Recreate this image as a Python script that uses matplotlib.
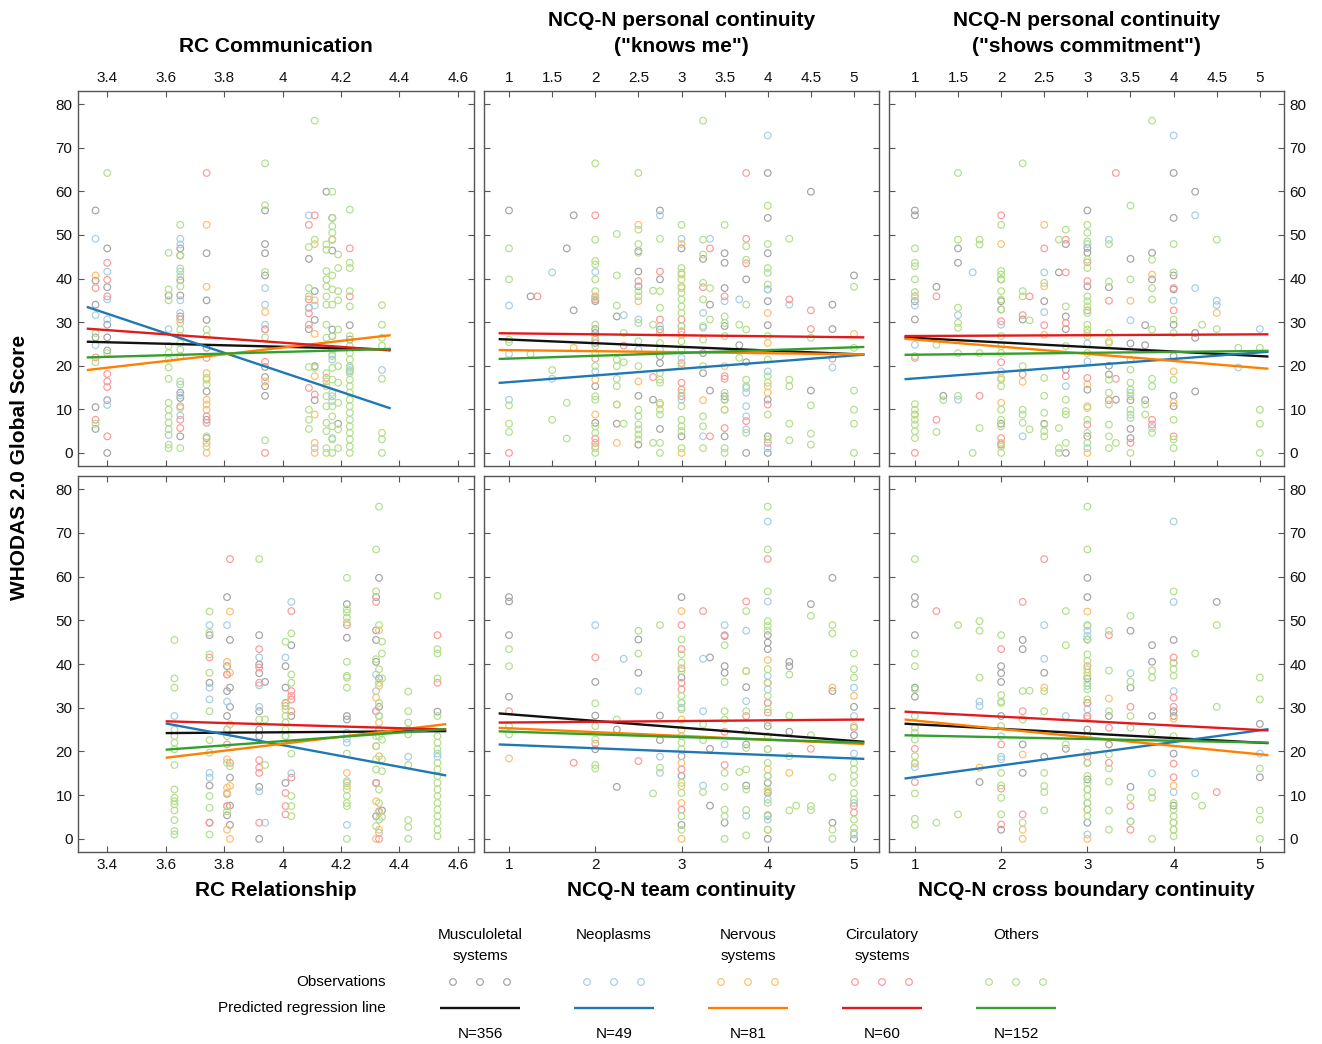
import matplotlib.pyplot as plt
from matplotlib.ticker import FormatStrFormatter

plt.rcParams['font.family'] = ['Liberation Sans', 'DejaVu Sans']

# groups
group_names = ['Musculoletal\nsystems', 'Neoplasms', 'Nervous\nsystems', 'Circulatory\nsystems', 'Others']
group_n = [356, 49, 81, 60, 152]
dot_colors = ['#a3a3a3', '#a6cee3', '#fdbf6f', '#fb9a99', '#b2df8a']
line_colors = ['#111111', '#1f78b4', '#ff7f00', '#e31a1c', '#33a02c']

# observations: {x value: [WHODAS scores]}
# --- RC Communication ---
comm_musc = {3.36: [55.6, 39.5, 34.0, 26.5, 10.5, 5.5],
             3.40: [46.9, 38.0, 29.4, 26.5, 23.5, 12.1, 0.0],
             3.61: [36.1],
             3.65: [46.9, 45.3, 39.6, 36.1, 31.3, 13.8, 12.6, 3.8],
             3.74: [45.8, 35.0, 30.5, 24.1, 14.1, 7.6, 3.4],
             3.94: [55.6, 47.9, 45.8, 40.7, 19.7, 17.4, 15.3, 13.1],
             4.09: [44.5, 33.3, 28.4],
             4.11: [37.1, 30.5, 19.9, 12.1],
             4.15: [59.9],
             4.17: [53.9, 46.4, 28.3, 26.8],
             4.19: [6.7],
             4.23: [29.3, 26.0]}
comm_neo = {3.36: [49.1, 31.6, 24.7],
            3.40: [41.6, 35.2, 30.6, 11.0],
            3.61: [28.4, 4.1],
            3.65: [49.1, 47.8, 41.6, 35.0, 32.1, 15.7, 13.2, 8.6],
            3.94: [37.8, 34.0, 29.4, 28.4],
            4.09: [54.5, 33.3],
            4.11: [33.8, 1.1],
            4.17: [22.6, 21.4, 13.0, 11.9, 3.4],
            4.23: [19.5, 18.7, 19.0],
            4.34: [19.0]}
comm_nerv = {3.36: [40.7],
             3.74: [52.3, 38.1, 18.3, 16.8, 12.2, 11.1, 9.9, 2.3, 0.0],
             3.94: [32.3, 16.4],
             4.11: [47.9, 35.0, 27.3, 17.6, 8.8, 2.3, 0.0],
             4.15: [15.3]}
comm_circ = {3.36: [37.8, 21.9, 7.6],
             3.40: [43.6, 39.7, 35.9, 18.1, 16.4, 15.1, 3.8],
             3.65: [30.6, 10.7, 7.6, 5.7],
             3.74: [64.2, 21.8, 8.4, 6.9],
             3.94: [28.3, 20.9, 0.0],
             4.09: [52.3, 35.2, 32.0, 29.4, 14.9],
             4.11: [54.5, 13.4],
             4.15: [17.2],
             4.17: [48.9],
             4.23: [46.9, 35.9]}
comm_other = {3.36: [27.5, 20.8, 6.7],
              3.40: [64.2, 22.9],
              3.61: [45.9, 37.5, 35.0, 24.5, 22.9, 21.4, 19.6, 17.0, 11.5, 9.9, 8.4, 6.9, 5.4, 1.9, 1.1],
              3.65: [52.3, 45.3, 42.3, 40.5, 38.2, 29.8, 28.3, 26.8, 25.2, 23.7, 22.2, 16.4, 10.3, 1.1],
              3.74: [28.3, 26.8, 17.2, 15.7, 3.8, 1.5],
              3.94: [66.4, 56.8, 41.5, 26.5, 2.9],
              4.09: [47.2, 37.8, 35.9, 19.7, 9.9, 7.6, 5.5],
              4.11: [76.2, 48.9, 19.5],
              4.15: [47.8, 46.6, 41.7, 39.8, 38.2, 35.9, 34.0, 29.4, 26.4, 18.3, 16.4, 13.0, 10.7, 6.9, 5.0, 1.1, 0.0],
              4.17: [59.9, 53.9, 52.0, 50.5, 48.9, 40.7, 37.5, 34.0, 26.8, 23.7, 22.2, 19.5, 16.8, 13.8, 10.7, 8.4, 6.1, 3.1, 0.0],
              4.19: [45.5, 42.4, 37.1, 35.0, 28.3, 19.9, 16.1, 11.5, 5.4, 1.1],
              4.23: [55.8, 43.6, 42.4, 37.1, 33.6, 26.8, 24.5, 22.9, 21.4, 19.9, 18.3, 16.8, 15.3, 13.8, 12.2,
                     10.7, 9.2, 7.6, 6.1, 4.6, 3.1, 1.5, 0.0],
              4.34: [33.9, 29.4, 26.4, 24.6, 17.0, 4.6, 3.1, 0.0]}
comm_fit_x = (3.33, 4.37)
comm_fit = [(25.5, 23.7), (33.5, 10.2), (19.0, 27.0), (28.5, 23.5), (21.9, 23.85)]

# --- NCQ-N personal continuity ("knows me") ---
knows_musc = {1.0: [55.6], 1.25: [35.9], 1.67: [46.9], 1.75: [54.5, 32.7],
              2.0: [34.8, 28.4, 27.5, 25.2, 15.3, 6.9], 2.25: [31.3, 6.7],
              2.5: [46.3, 41.6, 38.2, 13.1, 1.9], 2.67: [12.2],
              2.75: [55.6, 39.8, 28.3, 22.2, 20.6, 5.5], 3.0: [46.9, 3.8],
              3.25: [44.5, 22.9, 18.3], 3.33: [34.0, 14.3],
              3.5: [45.8, 43.6, 37.8, 29.1, 13.0, 12.2, 3.8], 3.67: [24.7],
              3.75: [39.8, 20.8, 0.0], 4.0: [64.2, 53.9, 45.8, 37.5, 34.8, 29.3, 12.2, 3.8, 0.0],
              4.5: [59.9, 14.3], 4.75: [34.0, 28.4], 5.0: [40.7]}
knows_neo = {1.0: [33.8, 22.7, 12.2], 1.5: [41.4, 17.0], 2.0: [41.5, 18.7], 2.33: [31.6],
             2.5: [30.6, 23.7], 2.75: [54.5, 29.1], 3.0: [49.1, 21.8, 12.2], 3.25: [32.1, 28.7, 3.8],
             3.33: [49.1], 3.5: [34.8], 3.67: [35.2], 3.75: [14.9, 13.8, 10.7, 8.4, 5.4],
             4.0: [72.8, 37.5, 18.7, 1.1], 4.25: [34.0], 4.75: [19.6]}
knows_nerv = {1.75: [24.1], 2.0: [16.8, 8.8, 1.5], 2.25: [11.1, 2.3], 2.5: [52.3, 34.8, 16.4],
              2.75: [27.5, 11.1], 3.0: [47.9, 40.9, 37.8, 27.1, 0.0], 3.25: [12.1], 3.5: [19.9, 9.9],
              4.0: [32.1, 25.2, 15.3, 13.8], 5.0: [27.3]}
knows_circ = {1.0: [0.0], 1.33: [35.9], 2.0: [54.5, 35.9, 35.2, 26.0, 21.6, 3.3, 2.3], 2.33: [24.6],
              2.5: [39.4], 2.67: [17.4], 2.75: [41.6, 30.6], 3.0: [30.6, 29.1, 27.9, 20.6, 16.1, 14.5, 13.0],
              3.25: [38.0], 3.33: [46.9, 3.8], 3.5: [35.9, 17.6, 17.0, 5.7], 3.75: [64.2, 49.1, 43.5, 7.3],
              4.0: [11.1, 2.3], 4.25: [35.2], 4.5: [32.7, 28.4], 4.75: [21.6]}
knows_other = {1.0: [46.9, 39.8, 26.0, 25.4, 10.9, 6.7, 4.8], 1.25: [22.7], 1.5: [19.0, 7.6], 1.67: [11.5, 3.3],
               2.0: [66.4, 48.9, 44.0, 43.2, 39.8, 37.1, 35.6, 29.4, 26.8, 24.5, 22.9, 19.9, 13.0, 12.2, 6.1,
                     4.6, 1.1, 0.0],
               2.25: [50.2, 40.7, 33.8, 21.4, 19.9, 17.0, 15.3, 11.1], 2.33: [27.5, 20.8, 6.7],
               2.5: [64.2, 51.2, 47.9, 45.9, 37.1, 35.9, 29.8, 25.6, 19.9, 9.9, 8.4, 6.5, 5.4, 4.2, 3.1],
               2.67: [37.2, 29.4, 2.3],
               2.75: [49.1, 37.1, 33.3, 25.2, 23.7, 18.3, 16.8, 16.1, 11.5, 9.9, 8.8, 2.3, 0.0],
               3.0: [52.3, 42.4, 41.3, 39.8, 38.2, 36.7, 35.2, 33.6, 32.1, 29.1, 25.6, 23.7, 19.9, 13.8, 10.7,
                     7.6, 6.1, 5.0, 1.1],
               3.25: [76.2, 48.9, 45.5, 39.0, 35.2, 29.1, 26.0, 19.9, 8.4, 6.1, 1.1], 3.33: [37.8, 30.6],
               3.5: [52.3, 31.3, 29.8, 26.8, 13.8, 12.2, 9.9, 1.1, 0.0], 3.67: [29.4, 21.8],
               3.75: [47.4, 44.3, 34.0, 28.3, 16.8, 15.3, 4.6],
               4.0: [56.7, 47.9, 42.4, 41.3, 38.6, 26.8, 21.4, 17.6, 16.1, 8.8, 3.1],
               4.25: [49.1, 16.8, 15.3, 6.7, 2.9], 4.5: [26.4, 10.9, 4.4, 1.9],
               5.0: [38.1, 24.1, 14.3, 9.9, 6.7, 0.0]}
knows_fit_x = (0.88, 5.12)
knows_fit = [(26.1, 22.55), (16.05, 22.55), (23.6, 22.6), (27.45, 26.5), (21.55, 24.3)]

# --- NCQ-N personal continuity ("shows commitment") ---
commit_musc = {1.0: [55.6, 54.5, 34.8, 30.6], 1.25: [38.1], 1.33: [13.1], 1.5: [46.9, 43.6],
               2.0: [39.8, 34.8, 32.9, 6.7, 1.9], 2.25: [30.6], 2.5: [34.8, 6.7], 2.67: [41.4],
               2.75: [47.9, 31.3, 28.4, 19.1, 0.0], 3.0: [55.6, 47.0, 45.9, 38.2, 14.5, 3.8],
               3.25: [38.0, 20.0, 18.0], 3.33: [12.2], 3.5: [44.5, 25.1, 12.1, 5.5, 3.4],
               3.67: [29.3, 24.7, 12.1], 3.75: [45.9, 39.8],
               4.0: [64.2, 53.9, 40.7, 37.5, 29.4, 22.2, 13.1, 10.7], 4.25: [59.9, 27.5, 26.4, 14.1]}
commit_neo = {1.0: [33.8, 24.8], 1.5: [31.6, 12.2], 1.67: [41.4], 2.0: [29.4, 18.7], 2.25: [3.8],
              2.5: [41.4, 32.3], 2.75: [15.3], 3.0: [47.9, 25.1, 21.0, 1.1], 3.25: [48.9],
              3.5: [30.4, 13.8, 8.8], 3.75: [5.7], 4.0: [72.8, 34.9], 4.25: [54.5, 37.8],
              4.5: [34.9, 33.9], 4.75: [19.6], 5.0: [28.4]}
commit_nerv = {1.0: [8.8], 2.0: [47.9, 17.2, 11.5, 2.3], 2.25: [16.3], 2.5: [52.3, 38.2, 27.1],
               3.0: [27.5, 15.7, 10.3, 0.0], 3.25: [25.6, 12.1], 3.5: [34.9], 3.75: [40.9],
               4.0: [18.7, 11.5], 4.5: [32.1]}
commit_circ = {1.0: [35.9, 21.8, 0.0], 1.25: [35.9, 7.6], 1.75: [13.1], 2.0: [54.5, 30.2, 20.8, 3.4],
               2.25: [31.6, 18.0], 2.33: [35.9], 2.5: [46.9, 29.3], 2.75: [48.9, 41.4, 29.8, 17.6],
               3.0: [43.7, 39.4, 32.7, 17.2, 6.5], 3.25: [34.9, 12.1], 3.33: [64.2, 17.0], 3.5: [2.3],
               3.75: [7.6, 6.5], 4.0: [37.8, 32.7, 3.8]}
commit_other = {1.0: [46.9, 43.6, 42.8, 39.8, 36.9, 35.9, 22.2, 11.2, 9.9, 8.8, 7.6, 6.5, 5.0, 3.4],
                1.25: [24.8, 4.8], 1.33: [12.1], 1.5: [64.2, 48.9, 33.3, 29.8, 28.7, 22.9, 13.1],
                1.67: [0.0], 1.75: [48.9, 47.8, 22.9, 5.7],
                2.0: [52.3, 41.7, 40.9, 39.8, 37.1, 35.2, 32.9, 26.8, 24.5, 22.9, 16.8, 15.3, 9.9, 7.6, 6.1,
                      1.5, 0.0],
                2.25: [66.4, 37.1, 35.9, 19.9, 9.9, 8.8, 6.9], 2.33: [30.4, 5.4],
                2.5: [39.0, 17.2, 13.1, 9.2, 6.5, 5.0, 3.8], 2.67: [48.9, 5.7, 1.1, 0.0],
                2.75: [51.2, 33.6, 24.5, 12.2, 9.6, 8.8, 2.3],
                3.0: [52.3, 50.5, 48.5, 44.3, 42.4, 35.9, 34.8, 33.6, 32.1, 29.4, 28.3, 26.8, 22.9, 10.7,
                      7.6, 4.6, 2.3],
                3.25: [47.9, 39.3, 27.5, 25.2, 16.8, 13.8, 11.1, 6.5, 3.8, 1.1], 3.33: [2.3],
                3.5: [56.7, 39.8, 21.4, 19.1, 16.1, 14.5, 13.0, 9.9, 8.0, 0.0], 3.67: [11.1, 8.8],
                3.75: [76.2, 44.3, 37.8, 35.2, 28.3, 17.0, 15.3, 4.6],
                4.0: [47.9, 41.4, 30.6, 27.5, 16.8, 7.6, 3.1, 1.1], 4.33: [29.4], 4.5: [48.9, 28.4],
                4.75: [24.1], 5.0: [24.1, 9.9, 6.7, 0.0]}
commit_fit_x = (0.88, 5.10)
commit_fit = [(26.5, 22.1), (16.9, 23.2), (26.2, 19.3), (26.8, 27.2), (22.5, 23.4)]

# --- RC Relationship ---
rel_musc = {3.75: [46.6, 35.7, 12.2, 3.7], 3.81: [55.3, 39.5, 33.8, 28.1, 10.3, 5.4],
            3.82: [45.5, 34.6, 30.2, 14.0, 7.6, 3.2], 3.92: [46.6, 39.9, 37.9, 29.2, 25.0, 23.5, 11.9, 0.0],
            3.94: [35.9], 4.01: [39.5, 34.6, 31.1, 12.8], 4.03: [44.3, 28.1],
            4.22: [53.7, 46.0, 28.1, 27.3], 4.32: [55.3, 47.7, 45.5, 40.5, 12.8, 5.2],
            4.33: [59.7, 36.7, 30.2], 4.34: [6.5], 4.53: [29.1]}
rel_neo = {3.63: [28.1], 3.75: [48.9, 34.6, 31.9, 15.1, 14.0], 3.81: [48.9, 31.4, 25.0],
           3.92: [41.5, 35.1, 30.2, 10.9], 3.94: [3.7], 4.01: [41.5, 23.5], 4.03: [54.2, 15.0],
           4.22: [24.3, 22.9, 22.0, 13.2, 3.2], 4.32: [37.6, 33.8, 29.2], 4.33: [28.1, 1.4],
           4.43: [18.8], 4.53: [19.5, 18.8]}
rel_nerv = {3.81: [40.5, 37.6, 18.2, 11.7, 10.5, 7.5, 2.1], 3.82: [52.0, 38.0, 26.2, 12.1, 0.0],
            4.03: [31.9], 4.22: [15.1, 12.1], 4.32: [32.3, 8.6, 0.0], 4.33: [47.7, 35.0, 26.6, 18.9, 2.1]}
rel_circ = {3.75: [41.5, 3.7], 3.81: [37.6, 21.6, 7.5], 3.82: [64.0, 17.4],
            3.92: [43.4, 39.2, 35.7, 18.0, 16.3, 15.1, 3.7], 4.01: [30.4, 10.5, 7.5, 5.6],
            4.03: [52.1, 33.8, 32.7, 31.9, 29.2, 14.0], 4.22: [48.9], 4.32: [54.2, 29.2, 21.2, 12.8],
            4.33: [6.3, 0.0], 4.53: [46.6, 35.7]}
rel_other = {3.63: [45.5, 36.7, 34.6, 25.0, 23.5, 22.0, 20.5, 16.9, 11.3, 9.4, 8.6, 7.9, 6.5, 4.3, 1.8, 1.0],
             3.75: [52.0, 47.2, 42.2, 38.0, 29.2, 22.6, 19.7, 9.8, 7.1, 1.0],
             3.81: [25.0, 23.5, 17.4, 6.3], 3.82: [16.6], 3.92: [64.0, 27.3], 3.94: [27.3, 16.9],
             4.01: [45.1, 31.0, 29.6, 28.1, 26.6, 25.0, 23.5],
             4.03: [47.0, 37.6, 35.7, 19.5, 9.8, 7.5, 5.2],
             4.22: [59.7, 52.5, 51.8, 50.6, 49.5, 40.5, 37.3, 36.9, 34.6, 19.5, 12.8, 11.3, 9.8, 8.2, 7.5, 0.0],
             4.32: [66.2, 56.6, 41.1, 23.5, 21.2, 18.2, 15.9, 2.9],
             4.33: [76.0, 48.9, 38.8, 35.7, 31.1, 28.1, 25.0, 23.5, 11.3, 8.2, 6.0, 4.4],
             4.34: [45.1, 42.4, 36.7, 22.7, 18.2, 15.5, 5.0],
             4.43: [33.7, 29.2, 26.6, 25.0, 23.9, 16.9, 4.3, 2.7, 0.0],
             4.53: [55.6, 43.4, 42.4, 36.7, 28.1, 23.5, 22.0, 20.5, 17.4, 15.9, 14.4, 12.8, 11.3, 9.8, 8.2,
                    6.7, 5.2, 3.7, 2.1, 0.6]}
rel_fit_x = (3.60, 4.56)
rel_fit = [(24.2, 24.65), (26.4, 14.5), (18.55, 26.25), (26.9, 25.0), (20.4, 25.1)]

# --- NCQ-N team continuity ---
team_musc = {1.0: [55.3, 54.3, 46.6, 32.5], 2.0: [35.9, 28.2, 20.5], 2.25: [25.0, 11.9], 2.5: [45.6, 38.0],
             2.75: [28.2, 22.6], 3.0: [55.3, 36.9, 18.9, 14.4, 3.2], 3.33: [41.5, 20.6, 7.6],
             3.5: [46.4, 39.5, 38.0, 3.7], 3.75: [34.7, 21.6, 12.2],
             4.0: [46.6, 44.9, 43.4, 25.8, 12.8, 10.5, 5.4, 0.0], 4.25: [40.5, 39.5, 24.5], 4.5: [53.7],
             4.75: [59.7, 33.8, 3.7], 5.0: [30.2, 23.7, 0.0]}
team_neo = {2.0: [48.9], 2.33: [41.2], 2.5: [33.8], 2.75: [18.8, 15.1], 3.0: [31.1, 30.0],
            3.25: [41.2, 29.2, 12.2], 3.5: [48.9, 21.6], 3.75: [47.6, 31.5, 5.3],
            4.0: [72.6, 54.3, 37.3, 34.2, 31.1, 14.4, 9.0, 4.4], 5.0: [34.6, 28.1, 19.5, 8.2, 1.0]}
team_nerv = {1.0: [18.4], 3.0: [52.1, 27.3, 25.0, 17.4, 12.1, 8.2, 0.0], 3.75: [38.4],
             4.0: [40.9, 15.9, 10.9, 2.1], 4.25: [15.1], 4.75: [34.6], 5.0: [32.7]}
team_circ = {1.0: [29.2], 1.75: [17.4], 2.0: [41.5, 21.8], 2.5: [17.8],
             3.0: [48.9, 43.4, 39.0, 35.7, 34.2, 15.9, 6.7], 3.25: [52.1], 3.5: [46.6, 24.5, 16.9],
             3.75: [54.3, 28.1], 4.0: [64.0, 35.7, 31.1, 28.9, 20.5], 4.5: [20.6], 5.0: [25.4, 7.5, 6.0]}
team_other = {1.0: [43.4, 39.5, 25.8, 23.9], 2.0: [31.0, 25.8, 22.7, 16.9, 16.1], 2.25: [27.3],
              2.5: [47.6, 42.4], 2.67: [10.4], 2.75: [48.9, 16.3],
              3.0: [45.6, 42.2, 40.3, 38.4, 32.7, 31.1, 29.6, 23.5, 22.0, 20.5, 12.8, 10.5, 5.2, 2.1],
              3.25: [26.2, 22.6, 10.7], 3.5: [44.3, 35.9, 29.2, 27.3, 15.1, 11.9, 6.7, 5.2, 0.0],
              3.67: [15.3], 3.75: [52.1, 38.4, 29.2, 24.7, 20.8, 15.9, 11.3, 6.6, 0.8],
              4.0: [76.0, 66.2, 56.6, 49.8, 48.7, 47.6, 38.8, 35.7, 32.7, 29.6, 26.6, 23.5, 20.5, 17.4, 14.4,
                    11.3, 8.2, 5.2, 2.1],
              4.25: [37.6, 28.2, 18.9, 6.5], 4.33: [7.6], 4.5: [51.0, 23.7, 7.5, 6.6],
              4.75: [48.9, 47.0, 14.1, 2.1, 0.0],
              5.0: [42.4, 38.8, 36.9, 25.8, 17.4, 15.9, 14.4, 12.8, 10.5, 9.0, 4.4, 2.5, 1.4]}
team_fit_x = (0.88, 5.12)
team_fit = [(28.7, 22.2), (21.6, 18.3), (25.4, 21.7), (26.6, 27.3), (24.6, 22.0)]

# --- NCQ-N cross boundary continuity ---
cross_musc = {1.0: [55.3, 53.7, 46.6, 34.6, 32.5], 1.75: [13.0], 2.0: [39.5, 37.9, 35.9, 28.1, 2.1],
              2.25: [45.5, 43.4, 21.6, 15.1], 2.5: [38.0, 18.8], 2.75: [20.6],
              3.0: [59.7, 55.3, 45.6, 36.7, 31.1, 25.0, 13.6, 3.7], 3.25: [28.1, 21.6],
              3.5: [47.6, 34.6, 11.9], 3.75: [44.3, 40.5, 28.1], 4.0: [45.5, 29.2, 28.1, 19.5, 7.6],
              4.5: [54.2], 5.0: [26.3, 14.1]}
cross_neo = {1.0: [16.4], 1.75: [31.4, 30.4], 2.0: [23.5, 18.8, 18.2], 2.5: [48.9, 41.2], 2.75: [28.1],
             3.0: [48.9, 47.6, 46.4, 35.0, 29.6, 28.1, 11.3, 8.2, 1.0], 3.5: [37.9, 4.0], 3.75: [15.0],
             4.0: [72.6, 54.2, 33.8, 10.7], 4.25: [15.0], 5.0: [19.5]}
cross_nerv = {1.0: [17.2], 1.75: [16.3], 2.25: [19.3, 2.1, 0.0], 2.5: [34.6], 3.0: [52.0, 38.0, 27.5, 0.0],
              3.25: [32.1], 4.0: [40.2, 27.5, 12.2, 2.1]}
cross_circ = {1.0: [20.6, 13.0], 1.25: [52.1], 2.0: [43.4, 21.6, 11.5, 3.3], 2.25: [54.2, 29.2, 5.6],
              2.5: [64.0], 3.0: [39.5, 31.1, 28.1, 18.9, 17.4, 6.7], 3.25: [46.6, 25.4, 17.4],
              3.5: [30.2, 7.5, 2.1], 4.0: [41.5, 32.3, 30.2, 17.2, 14.1, 3.7], 4.5: [10.7]}
cross_other = {1.0: [64.0, 42.4, 39.5, 34.2, 28.1, 25.4, 24.3, 22.7, 18.9, 17.4, 10.4, 4.6, 3.2], 1.25: [3.7],
               1.5: [48.9, 5.6], 1.75: [49.8, 47.6, 36.9],
               2.0: [46.6, 32.9, 31.4, 31.1, 25.8, 15.1, 12.2, 9.4, 5.6], 2.25: [33.8, 27.3, 3.7],
               2.33: [33.9], 2.5: [33.8, 29.2, 15.1, 12.1, 10.7, 6.5], 2.75: [52.1, 44.3, 21.6],
               3.0: [76.0, 66.2, 48.7, 45.6, 42.2, 40.7, 38.8, 37.3, 35.7, 34.2, 31.9, 23.5, 19.7, 17.4, 14.4,
                     12.8, 11.3, 9.8, 8.2, 6.7, 5.2],
               3.25: [47.6, 38.5, 29.2, 19.3, 16.1, 13.1, 6.5, 2.1], 3.5: [51.0, 36.0, 28.1, 25.4, 9.4, 4.0],
               3.75: [38.5, 36.9, 24.5, 10.7, 9.4, 0.0],
               4.0: [56.6, 40.3, 38.8, 37.3, 23.5, 8.2, 6.7, 5.2, 3.7, 2.1, 0.6], 4.25: [42.4, 9.8],
               4.33: [7.6], 4.5: [48.9, 30.2], 5.0: [36.9, 31.9, 16.1, 6.5, 4.4, 0.0]}
cross_fit_x = (0.88, 5.10)
cross_fit = [(26.35, 21.9), (13.8, 25.1), (27.3, 19.15), (29.1, 24.8), (23.7, 22.0)]

rc_ticks = [3.4, 3.6, 3.8, 4.0, 4.2, 4.4, 4.6]
half_ticks = [1, 1.5, 2, 2.5, 3, 3.5, 4, 4.5, 5]
int_ticks = [1, 2, 3, 4, 5]


def col_xy(d):
    xs, ys = [], []
    for x, vals in d.items():
        xs += [x] * len(vals)
        ys += vals
    return xs, ys


W, H = 1322, 1044
fig = plt.figure(figsize=(W / 100, H / 100), dpi=100)

# panel edges in pixels
col_px = [(78, 474), (484, 879), (889, 1284)]
row_px = [(91, 466), (476, 852)]

panels = [
    (0, 0, [comm_musc, comm_neo, comm_nerv, comm_circ, comm_other], comm_fit_x, comm_fit,
     (3.30, 4.655), rc_ticks, ['RC Communication']),
    (0, 1, [knows_musc, knows_neo, knows_nerv, knows_circ, knows_other], knows_fit_x, knows_fit,
     (0.71, 5.29), half_ticks, ['NCQ-N personal continuity', '("knows me")']),
    (0, 2, [commit_musc, commit_neo, commit_nerv, commit_circ, commit_other], commit_fit_x, commit_fit,
     (0.70, 5.28), half_ticks, ['NCQ-N personal continuity', '("shows commitment")']),
    (1, 0, [rel_musc, rel_neo, rel_nerv, rel_circ, rel_other], rel_fit_x, rel_fit,
     (3.30, 4.655), rc_ticks, ['RC Relationship']),
    (1, 1, [team_musc, team_neo, team_nerv, team_circ, team_other], team_fit_x, team_fit,
     (0.71, 5.29), int_ticks, ['NCQ-N team continuity']),
    (1, 2, [cross_musc, cross_neo, cross_nerv, cross_circ, cross_other], cross_fit_x, cross_fit,
     (0.70, 5.28), int_ticks, ['NCQ-N cross boundary continuity']),
]

MS = 23
spine_col = '#555555'
for r, c, obs, fx, fits, xlim, xt, label in panels:
    x0, x1 = col_px[c]
    y0, y1 = row_px[r]
    ax = fig.add_axes([x0 / W, 1 - y1 / H, (x1 - x0) / W, (y1 - y0) / H])
    for d, col in zip(obs, dot_colors):
        xs, ys = col_xy(d)
        ax.scatter(xs, ys, s=MS, facecolors='none', edgecolors=col, linewidths=0.85, zorder=2)
    for (ya, yb), col in zip(fits, line_colors):
        ax.plot(fx, (ya, yb), color=col, lw=1.7, zorder=3, solid_capstyle='butt')
    ax.set_xlim(*xlim)
    ax.set_ylim(-3, 83)
    ax.set_xticks(xt)
    ax.set_yticks(range(0, 81, 10))
    ax.xaxis.set_major_formatter(FormatStrFormatter('%g'))
    for s in ax.spines.values():
        s.set_color(spine_col)
        s.set_linewidth(1.0)
    ax.tick_params(direction='in', length=4, width=0.8, color=spine_col, labelsize=11,
                   top=True, bottom=True, left=True, right=True,
                   labeltop=(r == 0), labelbottom=(r == 1),
                   labelleft=(c == 0), labelright=(c == 2), pad=4, labelcolor='#111111')
    cx = (x0 + x1) / 2 / W
    if r == 0:
        ys_txt = [47] if len(label) == 1 else [21, 47]
    else:
        ys_txt = [891]
    for txt, yp in zip(label, ys_txt):
        fig.text(cx, 1 - yp / H, txt, ha='center', va='center', fontsize=15, fontweight='bold')

fig.text(20 / W, 1 - 467 / H, 'WHODAS 2.0 Global Score', rotation=90, ha='center', va='center',
         fontsize=15, fontweight='bold')

# legend table
lg = fig.add_axes([0, 0, 1, 1])
lg.set_xlim(0, W)
lg.set_ylim(H, 0)
lg.axis('off')
lg.text(386, 982, 'Observations', ha='right', va='center', fontsize=11)
lg.text(386, 1008, 'Predicted regression line', ha='right', va='center', fontsize=11)
for i, (name, n, dc, lc) in enumerate(zip(group_names, group_n, dot_colors, line_colors)):
    cx = 480 + i * 134
    for j, ln in enumerate(name.split('\n')):
        lg.text(cx, 935 + j * 21, ln, ha='center', va='center', fontsize=11)
    lg.scatter([cx - 27, cx, cx + 27], [982, 982, 982], s=MS, facecolors='none', edgecolors=dc,
               linewidths=0.85)
    lg.plot([cx - 40, cx + 40], [1008, 1008], color=lc, lw=1.7, solid_capstyle='butt')
    lg.text(cx, 1034, 'N=%d' % n, ha='center', va='center', fontsize=11)

fig.savefig('out.png', dpi=100)
